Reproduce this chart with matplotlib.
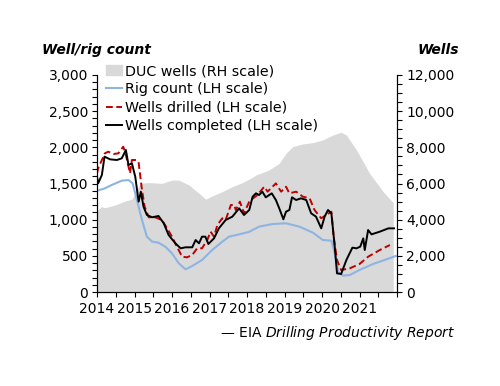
import matplotlib
matplotlib.use('Agg')
import matplotlib.pyplot as plt
from matplotlib.ticker import FuncFormatter, MultipleLocator

plt.rcParams['font.family'] = ['DejaVu Sans']
plt.rcParams['font.size'] = 10

# ---------- data ----------
duc_x = [2014.0, 2014.13, 2014.21, 2014.48, 2014.75, 2014.93, 2015.06, 2015.15, 2015.38,
         2015.73, 2016.0, 2016.18, 2016.45, 2016.72, 2016.9, 2017.03, 2017.34, 2017.61,
         2017.88, 2018.1, 2018.24, 2018.59, 2018.86, 2019.04, 2019.22, 2019.49, 2019.76,
         2020.02, 2020.29, 2020.51, 2020.65, 2020.92, 2021.27, 2021.63, 2021.9]
duc_wells = [4530, 4720, 4660, 4810, 5030, 5130, 5640, 6010, 6050,
             6010, 6190, 6190, 5920, 5460, 5130, 5270, 5550, 5830,
             6050, 6290, 6470, 6750, 7120, 7670, 8040, 8190, 8260,
             8410, 8680, 8830, 8680, 7850, 6560, 5550, 4940]

rig_x = [2014.0, 2014.21, 2014.39, 2014.66, 2014.84, 2014.95, 2015.02, 2015.11, 2015.2,
         2015.33, 2015.47, 2015.64, 2015.82, 2016.0, 2016.18, 2016.36, 2016.54, 2016.8,
         2017.07, 2017.34, 2017.52, 2017.79, 2018.05, 2018.32, 2018.68, 2019.04, 2019.4,
         2019.76, 2020.02, 2020.25, 2020.34, 2020.43, 2020.56, 2020.74, 2021.0, 2021.36,
         2021.72, 2021.97]
rig_count = [1400, 1433, 1479, 1539, 1548, 1502, 1364, 1180, 995,
             765, 696, 682, 627, 535, 397, 313, 360, 442,
             580, 696, 765, 797, 830, 903, 940, 950, 903,
             820, 719, 710, 535, 281, 226, 235, 304, 387,
             452, 498]

drilled_x = [2014.0, 2014.03, 2014.13, 2014.21, 2014.3, 2014.44, 2014.57, 2014.7, 2014.76,
             2014.84, 2014.88, 2014.93, 2015.06, 2015.11, 2015.2, 2015.27, 2015.38, 2015.55,
             2015.73, 2015.87, 2016.0, 2016.13, 2016.27, 2016.4, 2016.54, 2016.67, 2016.8,
             2016.94, 2017.03, 2017.12, 2017.21, 2017.34, 2017.43, 2017.57, 2017.66, 2017.7,
             2017.81, 2017.92, 2018.06, 2018.1, 2018.28, 2018.46, 2018.55, 2018.77, 2018.91,
             2019.04, 2019.13, 2019.31, 2019.49, 2019.67, 2019.8, 2019.98, 2020.11, 2020.25,
             2020.31, 2020.4, 2020.51, 2020.74, 2021.0, 2021.23, 2021.54, 2021.81]
wells_drilled = [1641, 1710, 1825, 1917, 1940, 1908, 1917, 2009, 1917,
                 1733, 1641, 1825, 1825, 1788, 1410, 1180, 1033, 1033,
                 995, 880, 765, 627, 488, 479, 512, 604, 604,
                 719, 834, 765, 926, 1019, 995, 1203, 1203, 1134,
                 1249, 1088, 1249, 1272, 1341, 1456, 1387, 1502, 1387,
                 1456, 1364, 1387, 1318, 1295, 1134, 1019, 1065, 1110,
                 765, 442, 304, 327, 387, 488, 580, 650]

completed_x = [2014.0, 2014.03, 2014.13, 2014.2, 2014.35, 2014.53, 2014.66, 2014.77, 2014.84,
               2014.93, 2015.02, 2015.11, 2015.17, 2015.24, 2015.33, 2015.47, 2015.64, 2015.78,
               2015.91, 2016.09, 2016.23, 2016.36, 2016.54, 2016.63, 2016.72, 2016.8, 2016.89,
               2016.97, 2017.12, 2017.25, 2017.43, 2017.61, 2017.79, 2017.92, 2018.06, 2018.15,
               2018.24, 2018.32, 2018.41, 2018.5, 2018.66, 2018.77, 2018.86, 2018.97, 2019.04,
               2019.13, 2019.2, 2019.31, 2019.44, 2019.58, 2019.71, 2019.84, 2019.98, 2020.07,
               2020.16, 2020.25, 2020.34, 2020.4, 2020.51, 2020.65, 2020.81, 2020.92, 2021.02,
               2021.1, 2021.14, 2021.23, 2021.32, 2021.54, 2021.77, 2021.92]
wells_completed = [1595, 1502, 1618, 1871, 1834, 1825, 1848, 1963, 1756,
                   1779, 1595, 1249, 1387, 1180, 1065, 1033, 1051, 950,
                   788, 673, 604, 618, 618, 719, 673, 765, 765,
                   664, 742, 880, 995, 1042, 1157, 1065, 1134, 1318,
                   1364, 1341, 1387, 1309, 1364, 1272, 1157, 1005, 1110,
                   1134, 1309, 1272, 1295, 1272, 1088, 1042, 880, 1042,
                   1134, 1088, 627, 258, 249, 442, 613, 604, 627,
                   742, 580, 857, 797, 834, 880, 880]

year_ticks = [2014, 2015, 2016, 2017, 2018, 2019, 2020, 2021]

# ---------- figure ----------
fig = plt.figure(figsize=(5, 3.86), dpi=100)
ax = fig.add_axes([0.194, 0.2435, 0.6, 0.5622])
ax2 = ax.twinx()

ax2.fill_between(duc_x, duc_wells, 0, color='#d9d9d9', lw=0, label='DUC wells (RH scale)')
ax2.set_ylim(0, 12000)

ax.set_zorder(ax2.get_zorder() + 1)
ax.patch.set_visible(False)

l1, = ax.plot(rig_x, rig_count, color='#8db4e2', lw=1.5, label='Rig count (LH scale)')
l2, = ax.plot(drilled_x, wells_drilled, color='#c00000', lw=1.4, ls=(0, (3.5, 1.8)),
              label='Wells drilled (LH scale)')
l3, = ax.plot(completed_x, wells_completed, color='black', lw=1.4,
              label='Wells completed (LH scale)')

ax.set_xlim(2014, 2022)
ax.set_ylim(0, 3000)
ax.set_xticks(year_ticks)
ax.set_xticklabels([str(y) for y in year_ticks])
ax.xaxis.set_minor_locator(MultipleLocator(0.5))
ax.yaxis.set_major_locator(MultipleLocator(500))
ax.yaxis.set_minor_locator(MultipleLocator(100))
ax2.yaxis.set_major_locator(MultipleLocator(2000))
ax2.yaxis.set_minor_locator(MultipleLocator(500))
fmt = FuncFormatter(lambda v, p: f'{int(v):,}')
ax.yaxis.set_major_formatter(fmt)
ax2.yaxis.set_major_formatter(fmt)

for a in (ax, ax2):
    a.spines['top'].set_visible(False)
    a.tick_params(which='both', direction='out', length=3.5, width=0.8, labelsize=10, pad=3)
ax.tick_params(axis='x', pad=4)

h0 = plt.Rectangle((0, 0), 1, 1, color='#d9d9d9')
leg = ax.legend([h0, l1, l2, l3],
                ['DUC wells (RH scale)', 'Rig count (LH scale)',
                 'Wells drilled (LH scale)', 'Wells completed (LH scale)'],
                loc='upper left', bbox_to_anchor=(0.03, 1.05), frameon=False,
                borderpad=0, borderaxespad=0, handlelength=1.1, handletextpad=0.2,
                labelspacing=0.3, fontsize=10.3)

fig.text(0.084, 0.87, 'Well/rig count', fontsize=10, fontweight='bold', style='italic',
         ha='left', va='center')
fig.text(0.918, 0.87, 'Wells', fontsize=10, fontweight='bold', style='italic',
         ha='right', va='center')
fig.text(0.91, 0.137, '— EIA $\\it{Drilling\\ Productivity\\ Report}$', fontsize=10,
         ha='right', va='center')

fig.savefig('out.png', dpi=100)
